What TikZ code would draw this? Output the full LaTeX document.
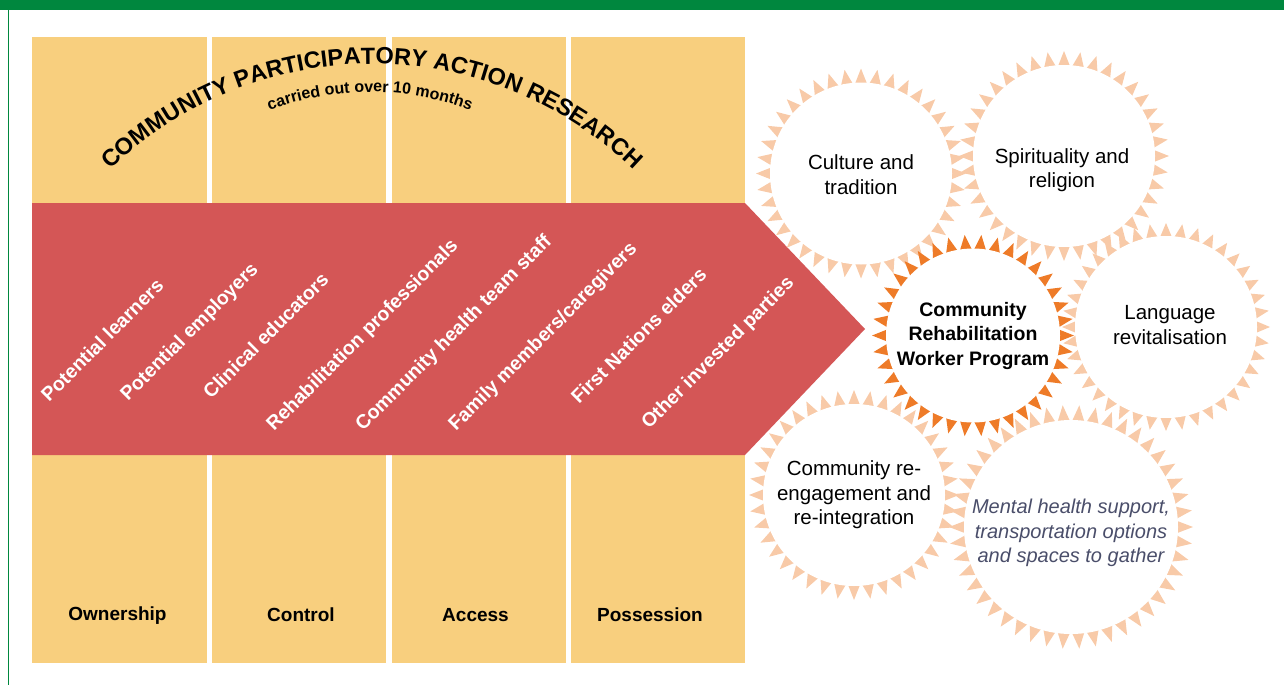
\documentclass[tikz,border=0pt]{standalone}
\usepackage{fontspec}
\setmainfont{Liberation Sans}
\usepackage{xcolor}
\usepackage{tikz}
\usetikzlibrary{positioning, decorations.text}

\definecolor{barGreen}{RGB}{0,135,62}
\definecolor{colYellow}{RGB}{248,207,126}
\definecolor{bandRed}{RGB}{212,86,86}
\definecolor{toothPeach}{RGB}{248,202,168}
\definecolor{toothOrange}{RGB}{238,123,40}
\definecolor{slateText}{RGB}{74,78,106}

\newcommand{\arcfontbig}{\bfseries\fontsize{23.5}{23.5}\selectfont}
\newcommand{\arcfontsmall}{\bfseries\fontsize{16}{16}\selectfont}

\tikzstyle{column} = [rectangle, fill=colYellow, minimum height=626pt, inner sep=0pt]
\tikzstyle{pillar} = [font=\bfseries\fontsize{19}{23}\selectfont, inner sep=0pt]
\tikzstyle{party} = [rotate=45, anchor=base west, inner sep=0pt, text=white, font=\bfseries\fontsize{19.5}{23}\selectfont]
\tikzstyle{bubble} = [circle, fill=white, inner sep=0pt]
\tikzstyle{bubbletext} = [align=center, font=\fontsize{20.5}{24.5}\selectfont]

\begin{document}
\begin{tikzpicture}[x=1pt, y=-1pt]
    \useasboundingbox (0,0) rectangle (1284,685);
    % Frame
    \fill [barGreen] (0,0) rectangle (1284,10);
    \draw [barGreen, line width=1.5pt] (8.5,10) -- (8.5,685);

    % Columns
    \node [column, minimum width=175pt] (own) at (119.5,350) {};
    \node [column, minimum width=174pt] (ctrl) at (299,350) {};
    \node [column, minimum width=174pt] (acc) at (479,350) {};
    \node [column, minimum width=174pt] (poss) at (658,350) {};
    \node [pillar] (ownLbl) at ([yshift=48pt, xshift=-2pt]own.south) {Ownership};
    \node [pillar] (ctrlLbl) at ([yshift=48pt, xshift=2pt]ctrl.south) {Control};
    \node [pillar] (accLbl) at ([yshift=48pt, xshift=-3.5pt]acc.south) {Access};
    \node [pillar] (possLbl) at ([yshift=48pt, xshift=-8pt]poss.south) {Possession};

    % Arrow band
    \fill [bandRed] (32,203) -- (745,203) -- (865,329) -- (745,455) -- (32,455) -- cycle;
    \node [party] (learners) at (49,403) {Potential learners};
    \node [party] (employers) at (128,402) {Potential employers};
    \node [party] (educators) at (211,400) {Clinical educators};
    \node [party] (rehab) at (274,432) {Rehabilitation professionals};
    \node [party] (health) at (363,432) {Community health team staff};
    \node [party] (family) at (456,432) {Family members/caregivers};
    \node [party] (elders) at (579,405) {First Nations elders};
    \node [party] (others) at (649,430) {Other invested parties};

    % Curved title
    \path [decorate, decoration={text along path, text align=center,
        text={|\arcfontbig|COMMUNITY PARTICIPATORY ACTION RESEARCH}}]
        (101.5,178.8) arc[start angle=-136, end angle=-44, radius=376];
    \path [decorate, decoration={text along path, text align=center,
        text={|\arcfontsmall|carried out over 10 months}}]
        (262.5,112.9) arc[start angle=-112, end angle=-68, radius=287];

    % Teeth round the circles
    \foreach \cx/\cy/\ri/\ro/\n/\tc in {861/173.5/91/105/40/toothPeach,
            1064/156/91/105/40/toothPeach, 1166/327/91/104/40/toothPeach,
            854/495/91/105/40/toothPeach, 1071/527/107/122/46/toothPeach,
            973/335.5/87/101/38/toothOrange}
        \foreach \k in {1,...,\n}
            \fill [\tc, shift={(\cx,\cy)}] ({360/\n*(\k-0.46)}:{\ri-2}) -- ({360/\n*\k}:\ro)
                -- ({360/\n*(\k+0.46)}:{\ri-2}) -- cycle;

    % Circles
    \node [bubble, minimum size=182pt] (culture) at (861,173.5) {};
    \node [bubble, minimum size=182pt] (spirit) at (1064,156) {};
    \node [bubble, minimum size=174pt] (crw) at (973,335.5) {};
    \node [bubble, minimum size=182pt] (language) at (1166,327) {};
    \node [bubble, minimum size=182pt] (reengage) at (854,495) {};
    \node [bubble, minimum size=214pt] (mental) at (1071,527) {};

    \node [bubbletext] (cultureTxt) at ([yshift=-1pt]culture) {Culture and\\tradition};
    \node [bubbletext] (spiritTxt) at ([yshift=-14pt, xshift=-2pt]spirit) {Spirituality and\\religion};
    \node [bubbletext, font=\bfseries\fontsize{19.5}{24.5}\selectfont] (crwTxt) at (crw) {Community\\Rehabilitation\\Worker Program};
    \node [bubbletext] (languageTxt) at ([xshift=4pt, yshift=2pt]language) {Language\\revitalisation};
    \node [bubbletext] (reengageTxt) at ([yshift=0pt]reengage) {Community re-\\engagement and\\re-integration};
    \node [bubbletext, text=slateText, font=\itshape\fontsize{20}{24.5}\selectfont] (mentalTxt) at ([yshift=-6pt]mental) {Mental health support,\\transportation options\\and spaces to gather};
\end{tikzpicture}
\end{document}
